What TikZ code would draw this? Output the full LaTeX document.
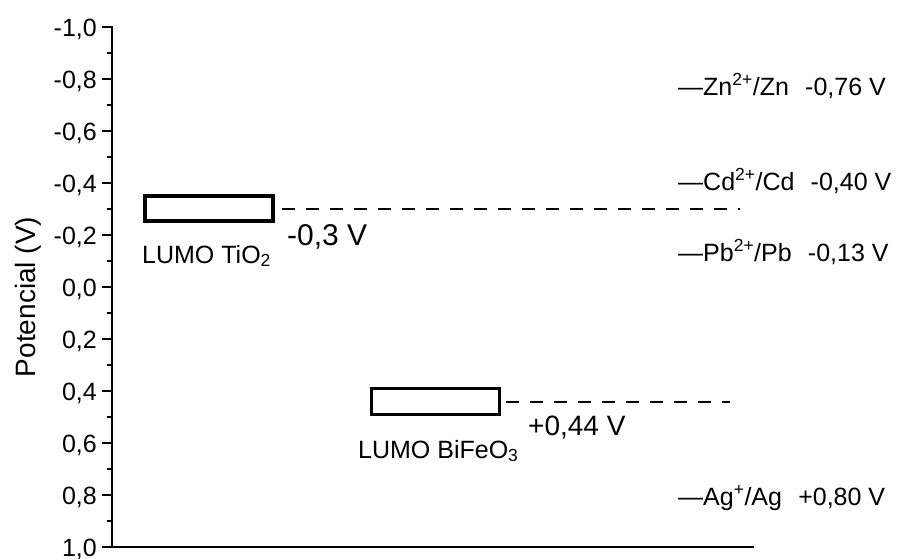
\documentclass[tikz,border=0pt]{standalone}
\usepackage{fontspec}
\setmainfont{Liberation Sans}
\begin{document}
\begin{tikzpicture}[x=1pt,y=-1pt,
  axisline/.style={line width=2pt,line cap=rect},
  ticks/.style={line width=2pt},
  ticklabel/.style={anchor=base east,inner sep=0pt,font=\fontsize{25}{30}\selectfont},
  lumobox/.style={draw,line width=3.5pt,minimum width=128pt,minimum height=25pt,inner sep=0pt},
  level/.style={line width=2pt,dash pattern=on 13pt off 11pt},
  lumolabel/.style={anchor=base west,inner sep=0pt,font=\fontsize{25}{30}\selectfont},
  vlabel/.style={anchor=base west,inner sep=0pt,font=\fontsize{28}{33}\selectfont},
  redox/.style={anchor=base west,inner sep=0pt,font=\fontsize{25}{30}\selectfont}]
\useasboundingbox (0,0) rectangle (897,558);
\fill[white] (0,0) rectangle (897,558);
% axes
\draw[axisline] (112,27) -- (112,547) -- (753,547);
\foreach \i in {0,...,10} \draw[ticks] (102,27+52*\i) -- (112,27+52*\i);
\foreach \i in {0,...,9} \draw[ticks] (107,53+52*\i) -- (112,53+52*\i);
\foreach \i/\t in {0/{-1,0},1/{-0,8},2/{-0,6},3/{-0,4},4/{-0,2},5/{0,0},6/{0,2},7/{0,4},8/{0,6},9/{0,8},10/{1,0}}
  \node[ticklabel] (t\i) at (97,36+52*\i) {\t};
\node[rotate=90,anchor=base,inner sep=0pt,font=\fontsize{28}{33}\selectfont] (ylab) at (35,297) {Potencial (V)};
% LUMO TiO2
\node[lumobox] (tio2) at (209,208.5) {};
\coordinate (tioend) at (740,208.5);
\draw[level] ([xshift=7pt]tio2.east) -- (tioend);
\node[lumolabel] (tiolab) at (142,263) {LUMO TiO\textsubscript{2}};
\node[vlabel,font=\fontsize{30}{36}\selectfont] (tioval) at (287,245) {-0,3 V};
% LUMO BiFeO3
\node[lumobox,minimum height=26pt] (bfo) at (435.5,401.5) {};
\coordinate (bfoend) at (730,401.5);
\draw[level] ([xshift=5pt]bfo.east) -- (bfoend);
\node[lumolabel] (bfolab) at (358,458) {LUMO BiFeO\textsubscript{3}};
\node[vlabel] (bfoval) at (528,435) {+0,44 V};
% redox couples
\node[redox] (zn) at (678,95) {—Zn\textsuperscript{2+}/Zn\hspace{0.65em}-0,76 V};
\node[redox] (cd) at (678,190) {—Cd\textsuperscript{2+}/Cd\hspace{0.65em}-0,40 V};
\node[redox] (pb) at (678,261) {—Pb\textsuperscript{2+}/Pb\hspace{0.65em}-0,13 V};
\node[redox] (ag) at (678,505) {—Ag\textsuperscript{+}/Ag\hspace{0.65em}+0,80 V};
\end{tikzpicture}
\end{document}
